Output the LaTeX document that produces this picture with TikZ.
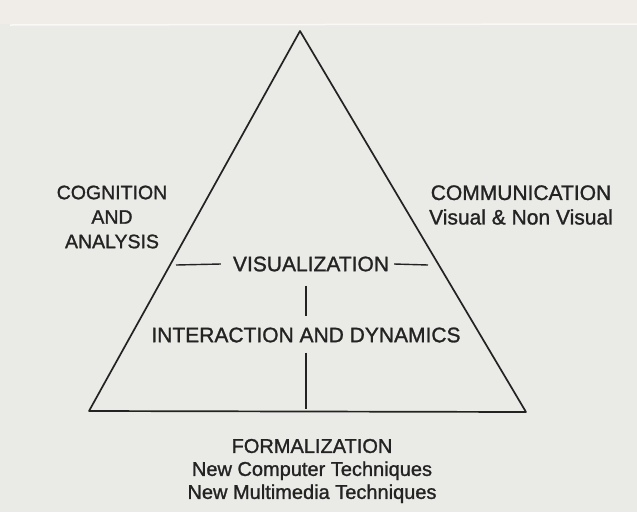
\documentclass[tikz,border=0pt]{standalone}
\usepackage{fontspec}
\setmainfont{Liberation Sans}[FakeBold=1.2]
\definecolor{paper}{RGB}{234,234,231}
\definecolor{band}{RGB}{240,236,231}
\definecolor{ink}{RGB}{35,35,35}
\begin{document}
\begin{tikzpicture}[x=1pt,y=-1pt,font=\fontsize{21}{24.5}\selectfont,
            side/.style={draw=ink,line width=1.7pt,line join=round},
            rule/.style={draw=ink,line width=1.4pt},
            lbl/.style={text=ink,inner sep=0pt,align=center}]
            \useasboundingbox (0,0) rectangle (637,512);
            \fill[paper] (0,0) rectangle (637,512);
            \fill[band] (0,0) rectangle (637,24);
            \draw[white!70!band,line width=1.5pt] (10,25)--(637,24);
            \coordinate (top) at (300,31);
            \coordinate (bl) at (89,411);
            \coordinate (br) at (526,412);
            \draw[side] (top)--(br)--(bl)--cycle;
            \node[lbl,font=\fontsize{19.5}{24.5}\selectfont] (cog) at (112,217) {COGNITION\\AND\\ANALYSIS};
            \node[lbl] (com) at (521,205) {COMMUNICATION\\Visual \& Non Visual};
            \node[lbl] (vis) at (311,264) {VISUALIZATION};
            \node[lbl] (inter) at (306,335) {INTERACTION AND DYNAMICS};
            \node[lbl,font=\fontsize{20}{23}\selectfont] (form) at (312,471) {FORMALIZATION\\New Computer Techniques\\New Multimedia Techniques};
            \coordinate (visL) at (176,265);
            \coordinate (visR) at (428,265);
            \coordinate (baseM) at (309,409);
            \draw[rule] (visL)--([xshift=-12pt]vis.west);
            \draw[rule] ([xshift=5pt]vis.east)--(visR);
            \draw[rule,shorten <=14pt,shorten >=11pt] (vis.south -| inter.north)--(inter.north);
            \draw[rule,shorten <=10pt] (inter.south)--(inter.south |- baseM);
\end{tikzpicture}
\end{document}
